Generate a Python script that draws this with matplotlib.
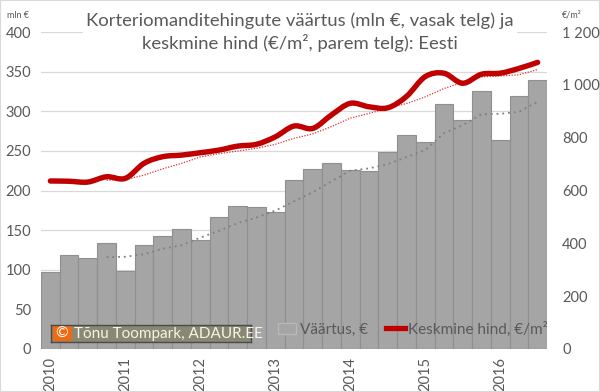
import numpy as np
import pandas as pd
import matplotlib
matplotlib.use('Agg')
import matplotlib.pyplot as plt
from matplotlib.path import Path
from matplotlib.patches import PathPatch, Rectangle
from matplotlib.lines import Line2D

plt.rcParams['font.family'] = ['Lato', 'DejaVu Sans']

# kvartalid 2010 K1 ... 2016 K3
years = ['2010', '2011', '2012', '2013', '2014', '2015', '2016']
vaartus = [97, 118, 114.5, 134, 99, 131, 142.5, 151, 137.5, 166, 181, 179,
           172.5, 213, 226.5, 234.5, 226, 224.5, 248, 270, 261.5, 309, 289,
           325.5, 263.5, 319, 340]
hind = [636, 635, 632, 652, 646, 703, 728, 734, 743, 753, 768, 775,
        803, 844, 835, 886, 930, 917, 913, 956, 1031, 1044, 1006, 1040,
        1044, 1062, 1085]

grey_txt = '#595959'
x = np.arange(len(vaartus))

fig = plt.figure(figsize=(6, 3.92), dpi=100)
ax = fig.add_axes([41/600, 43/392, 506/600, 317/392])
ax2 = ax.twinx()

ax.set_zorder(1)
ax2.set_zorder(2)
ax.patch.set_visible(False)

ax.bar(x, vaartus, width=1.0, color='#a5a5a5', edgecolor='#8f8f8f', linewidth=0.8, zorder=2)
ax.set_ylim(0, 400)
ax.set_xlim(-0.5, len(x) - 0.5)
ax.set_yticks(range(0, 401, 50))
ax.yaxis.grid(True, color='#d9d9d9', linewidth=0.9, zorder=0)
ax.set_axisbelow(True)

# 4 perioodi libisev keskmine
ma_v = pd.Series(vaartus).rolling(4).mean()
ax.plot(x[3:], ma_v[3:], color='#7f7f7f', linestyle=(0, (1, 2.2)), linewidth=1.3, zorder=3)

ax2.set_ylim(0, 1200)
ma_h = pd.Series(hind).rolling(4).mean()
ax2.plot(x[3:], ma_h[3:], color='#e03030', linestyle=(0, (1, 1.2)), linewidth=0.9, zorder=3)

# silutud joon (Bezier kõverad)
pts = np.column_stack([x, hind]).astype(float)
verts = [tuple(pts[0])]
codes = [Path.MOVETO]
n = len(pts)
for i in range(n - 1):
    p0 = pts[max(i - 1, 0)]
    p1 = pts[i]
    p2 = pts[i + 1]
    p3 = pts[min(i + 2, n - 1)]
    c1 = p1 + (p2 - p0) / 6
    c2 = p2 - (p3 - p1) / 6
    verts += [tuple(c1), tuple(c2), tuple(p2)]
    codes += [Path.CURVE4] * 3
ax2.add_patch(PathPatch(Path(verts, codes), facecolor='none', edgecolor='#c00000',
                        linewidth=3.9, capstyle='round', zorder=4))

ax2.set_yticks(range(0, 1201, 200))
ax2.set_yticklabels([f'{v:,}'.replace(',', ' ') for v in range(0, 1201, 200)])

ax.set_xticks(x[::4])
ax.set_xticklabels(years, rotation=90)

for a in (ax, ax2):
    for s in a.spines.values():
        s.set_visible(False)
    a.tick_params(length=0, labelsize=10.5, colors=grey_txt)
ax.tick_params(axis='y', pad=7)
ax2.tick_params(axis='y', pad=11)
ax.tick_params(axis='x', pad=6)

fig.text(18/600, 1 - 15/392, 'mln €', fontsize=6.5, color=grey_txt, ha='center', va='center')
fig.text(572/600, 1 - 15/392, '€/m²', fontsize=6.5, color=grey_txt, ha='center', va='center')

fig.text(300/600, 1 - 32/392,
         'Korteriomanditehingute väärtus (mln €, vasak telg) ja\nkeskmine hind (€/m², parem telg): Eesti',
         fontsize=13.3, color=grey_txt, ha='center', va='center', linespacing=1.35,
         bbox=dict(facecolor='white', edgecolor='none', pad=2), zorder=5)

handles = [Rectangle((0, 0), 1, 1, facecolor='#a5a5a5', edgecolor='#b8b8b8'),
           Line2D([], [], color='#c00000', linewidth=3.8)]
leg = fig.legend(handles, ['Väärtus, €', 'Keskmine hind, €/m²'], ncol=2, frameon=False,
                 loc='center left', bbox_to_anchor=(264/600, 1 - 329/392),
                 fontsize=11, handlelength=1.2, handletextpad=0.25, columnspacing=1.2)
for t in leg.get_texts():
    t.set_color(grey_txt)

# autoriõiguse märk eraldi teljestikul, kõige peal
cax = fig.add_axes([51/600, 1 - 342/392, 200/600, 17/392])
cax.set_zorder(10)
cax.set_facecolor('#888873')
cax.set_xticks([])
cax.set_yticks([])
for s in cax.spines.values():
    s.set_color('#4a4a4a')
    s.set_linewidth(1.0)
cax.add_patch(Rectangle((0.008, 0.08), 0.095, 0.84, transform=cax.transAxes,
                        facecolor='#f26a10', edgecolor='none'))
cax.text(0.055, 0.5, '©', fontsize=11, color='white', ha='center', va='center',
         transform=cax.transAxes)
cax.text(0.115, 0.47, 'Tõnu Toompark, ADAUR.EE', fontsize=11, color='#f4f4e8',
         ha='left', va='center', transform=cax.transAxes)

fig.patches.append(Rectangle((0, 0), 1, 1, transform=fig.transFigure, facecolor='none',
                             edgecolor='#d9d9d9', linewidth=1.5))

fig.savefig('out.png', dpi=100)
